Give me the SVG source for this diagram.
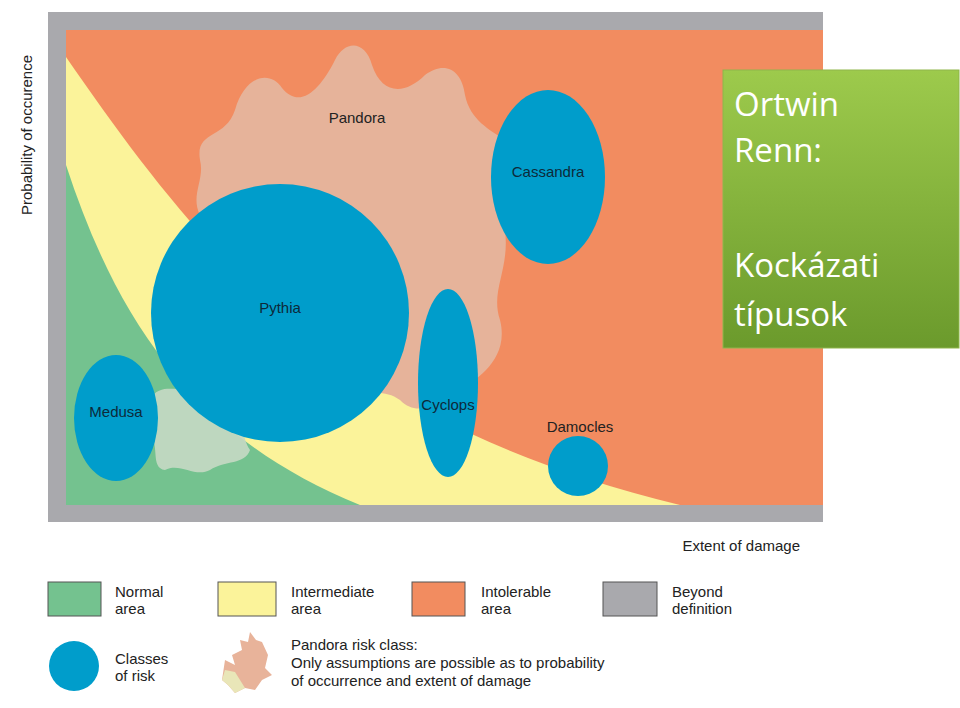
<svg xmlns="http://www.w3.org/2000/svg" width="960" height="708" viewBox="0 0 960 708">
<defs>
<linearGradient id="gb" x1="0" y1="0" x2="0" y2="1"><stop offset="0" stop-color="#9dca4c"/><stop offset="1" stop-color="#6b9a2c"/></linearGradient>
<style>
.t{font-family:"Liberation Sans",Arial,sans-serif;font-size:15px;fill:#222}
.n{font-family:"Liberation Sans",Arial,sans-serif;font-size:15px;fill:#0d2a3a}
.b{fill:#009dcb}
.w{font-family:"Open Sans","Liberation Sans",sans-serif;font-size:33px;fill:#fff}
</style>
</defs>
<rect width="960" height="708" fill="#fff"/>
<g id="chart">
<rect x="48" y="12" width="775" height="510" fill="#a9a9ad"/>
<rect x="66" y="30" width="757" height="475" fill="#f28c60"/>
<path d="M66,57 C200,250 330,420 680,505 L66,505 Z" fill="#fbf39a"/>
<path d="M66,165 C120,330 200,440 360,505 L66,505 Z" fill="#74c28f"/>
<path id="ghost" d="M150,400 C160,380 180,395 190,385 C205,380 215,400 230,405 C245,415 240,435 250,450 C245,465 225,460 210,470 C195,478 180,462 165,470 C150,468 160,445 150,435 Z" fill="#c7d9c4" opacity="0.9"/>
<path id="pandora" d="M200,160 C195,130 225,140 235,110 C245,75 270,70 282,88 C300,110 320,90 335,60 C345,40 365,40 372,65 C382,95 405,95 425,75 C445,60 462,70 465,95 C470,120 490,130 505,140 C515,170 500,200 505,230 C510,270 490,290 500,320 C510,360 475,380 460,390 C440,400 420,420 400,400 C380,385 360,400 340,390 C310,380 290,360 270,350 C240,330 200,320 195,290 C188,260 210,240 200,215 C190,195 205,180 200,160 Z" fill="#e6b39a"/>
</g>
<g id="pythia"><circle class="b" cx="280" cy="313" r="129"/><text class="n" x="280" y="313" text-anchor="middle">Pythia</text></g>
<g id="medusa"><ellipse class="b" cx="116" cy="418" rx="42" ry="63"/><text class="n" x="116" y="417" text-anchor="middle">Medusa</text></g>
<g id="cyclops"><ellipse class="b" cx="448" cy="383" rx="30" ry="94"/><text class="n" x="448" y="410" text-anchor="middle">Cyclops</text></g>
<g id="cassandra"><ellipse class="b" cx="548" cy="177" rx="57" ry="87"/><text class="n" x="548" y="177" text-anchor="middle">Cassandra</text></g>
<g id="damocles"><circle class="b" cx="578" cy="466" r="30"/><text class="t" x="580" y="432" text-anchor="middle">Damocles</text></g>
<text class="t" x="357" y="123" text-anchor="middle" fill="#3a2a20">Pandora</text>
<text class="t" transform="translate(32,135) rotate(-90)" text-anchor="middle">Probability of occurence</text>
<text class="t" x="800" y="551" text-anchor="end">Extent of damage</text>
<g id="legend">
<rect x="48" y="582" width="53" height="34" fill="#74c28f" stroke="#555"/>
<text class="t" x="115" y="597">Normal</text><text class="t" x="115" y="614">area</text>
<rect x="218" y="582" width="58" height="34" fill="#fbf39a" stroke="#555"/>
<text class="t" x="291" y="597">Intermediate</text><text class="t" x="291" y="614">area</text>
<rect x="412" y="582" width="53" height="34" fill="#f28c60" stroke="#555"/>
<text class="t" x="481" y="597">Intolerable</text><text class="t" x="481" y="614">area</text>
<rect x="603" y="582" width="54" height="34" fill="#a9a9ad" stroke="#555"/>
<text class="t" x="672" y="597">Beyond</text><text class="t" x="672" y="614">definition</text>
<ellipse class="b" cx="74" cy="666" rx="25" ry="25"/>
<text class="t" x="115" y="664">Classes</text><text class="t" x="115" y="681">of risk</text>
<path d="M225,660 L235,665 L232,655 L242,650 L240,640 L248,642 L250,632 L256,640 L262,642 L268,655 L265,668 L272,675 L262,680 L255,690 L245,688 L235,693 L228,685 L222,680 Z" fill="#e8b39a"/>
<path d="M225,670 L235,672 L240,680 L245,688 L235,693 L228,685 L222,680 Z" fill="#e9e6b8"/>
<text class="t" x="291" y="650">Pandora risk class:</text>
<text class="t" x="291" y="668">Only assumptions are possible as to probability</text>
<text class="t" x="291" y="686">of occurrence and extent of damage</text>
</g>
<g id="title">
<rect x="723" y="70" width="236" height="278" fill="url(#gb)" stroke="#8fb54a"/>
<text class="w" x="734" y="116">Ortwin</text>
<text class="w" x="734" y="162">Renn:</text>
<text class="w" x="734" y="277">Kockázati</text>
<text class="w" x="734" y="326">típusok</text>
</g>
</svg>
